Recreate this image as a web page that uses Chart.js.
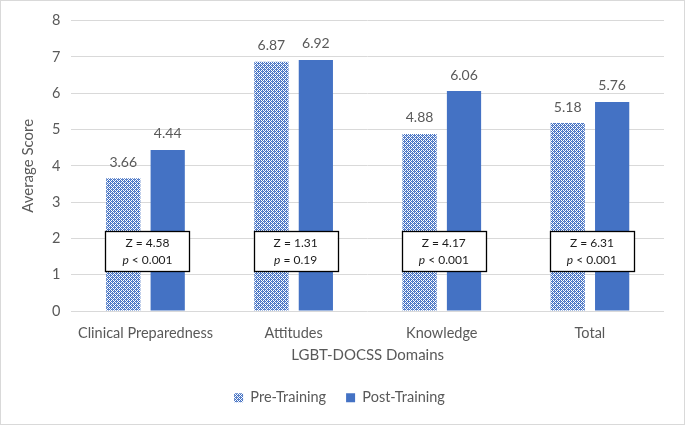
<!DOCTYPE html>
<html>
<head>
<meta charset="utf-8">
<script src="https://cdn.jsdelivr.net/npm/chart.js@4.4.1/dist/chart.umd.min.js"></script>
<style>
  html, body { margin: 0; padding: 0; background: #fff; }
  #wrap { width: 683px; height: 423px; border: 1px solid #d9d9d9; }
</style>
</head>
<body>
<div id="wrap"><canvas id="chartCanvas" width="683" height="423"></canvas></div>
<script>
    var categories = ["Clinical Preparedness", "Attitudes", "Knowledge", "Total"];
    var preTraining = [3.66, 6.87, 4.88, 5.18];
    var postTraining = [4.44, 6.92, 6.06, 5.76];
    var zValues = ["4.58", "1.31", "4.17", "6.31"];
    var pValues = ["< 0.001", "= 0.19", "< 0.001", "< 0.001"];
    var yTicks = [0, 1, 2, 3, 4, 5, 6, 7, 8];

    var blue = "#4472C4";
    var grey = "#595959";
    var fontName = "Lato, 'Open Sans', sans-serif";

    // checkered fill for the pre-training bars
    var makePattern = function(ctx) {
        var tile = document.createElement("canvas");
        tile.width = 4;
        tile.height = 4;
        var t = tile.getContext("2d");
        t.fillStyle = "#ffffff";
        t.fillRect(0, 0, 4, 4);
        t.fillStyle = blue;
        for (var y = 0; y < 4; y++) {
            for (var x = 0; x < 4; x++) {
                if ((x + y) % 2 === 0) t.fillRect(x, y, 1, 1);
            }
        }
        t.fillStyle = "#6f8fd0";
        t.fillRect(1, 2, 1, 1);
        t.fillRect(3, 0, 1, 1);
        return ctx.createPattern(tile, "repeat");
    };

    var valueLabels = {
        id: "valueLabels",
        afterDatasetsDraw: function(chart) {
            var ctx = chart.ctx;
            ctx.save();
            ctx.fillStyle = grey;
            ctx.font = "14px " + fontName;
            ctx.textAlign = "center";
            ctx.textBaseline = "bottom";
            chart.data.datasets.forEach(function(ds, di) {
                chart.getDatasetMeta(di).data.forEach(function(bar, i) {
                    ctx.fillText(ds.data[i].toFixed(2), bar.x, bar.y - 9);
                });
            });
            ctx.restore();
        }
    };

    var statBoxes = {
        id: "statBoxes",
        afterDatasetsDraw: function(chart) {
            var ctx = chart.ctx;
            var xs = chart.scales.x, ys = chart.scales.y;
            ctx.save();
            categories.forEach(function(c, i) {
                var cx = xs.getPixelForValue(i) + 2;
                var top = ys.getPixelForValue(2.2);
                var bottom = ys.getPixelForValue(1.1);
                var w = 84;
                ctx.fillStyle = "#ffffff";
                ctx.fillRect(cx - w / 2, top, w, bottom - top);
                ctx.strokeStyle = "#000000";
                ctx.lineWidth = 1.3;
                ctx.strokeRect(Math.round(cx - w / 2) + 0.5, Math.round(top) + 0.5, w, Math.round(bottom - top));
                ctx.fillStyle = "#1a1a1a";
                ctx.textBaseline = "middle";
                ctx.font = "12px " + fontName;
                ctx.textAlign = "center";
                var midTop = top + (bottom - top) * 0.3;
                var midBot = top + (bottom - top) * 0.72;
                ctx.fillText("Z = " + zValues[i], cx, midTop);
                var rest = " " + pValues[i];
                ctx.font = "italic 12px " + fontName;
                var pw = ctx.measureText("p").width;
                ctx.font = "12px " + fontName;
                var rw = ctx.measureText(rest).width;
                var start = cx - (pw + rw) / 2;
                ctx.textAlign = "left";
                ctx.font = "italic 12px " + fontName;
                ctx.fillText("p", start, midBot);
                ctx.font = "12px " + fontName;
                ctx.fillText(rest, start + pw, midBot);
            });
            ctx.restore();
        }
    };

    window.onload = function() {
        var ctx = document.getElementById("chartCanvas").getContext("2d");
        var pattern = makePattern(ctx);
        window.myBar = new Chart(ctx, {
            type: "bar",
            data: {
                labels: categories,
                datasets: [
                    {
                        label: "Pre-Training",
                        data: preTraining,
                        backgroundColor: pattern,
                        borderWidth: 0,
                        categoryPercentage: 0.6,
                        barPercentage: 0.77
                    },
                    {
                        label: "Post-Training",
                        data: postTraining,
                        backgroundColor: blue,
                        borderWidth: 0,
                        categoryPercentage: 0.6,
                        barPercentage: 0.77
                    }
                ]
            },
            options: {
                responsive: false,
                animation: false,
                layout: { padding: { top: 7, right: 20, left: 14, bottom: 9 } },
                plugins: {
                    tooltip: { enabled: false },
                    legend: {
                        position: "bottom",
                        labels: {
                            boxWidth: 9,
                            boxHeight: 9,
                            padding: 20,
                            color: grey,
                            font: { family: fontName, size: 14.5 }
                        }
                    }
                },
                scales: {
                    x: {
                        grid: { display: false },
                        border: { display: false },
                        ticks: { color: grey, font: { family: fontName, size: 14.5, lineHeight: 1.0 }, padding: 7 },
                        title: {
                            display: true,
                            text: "LGBT-DOCSS Domains",
                            color: grey,
                            font: { family: fontName, size: 15, lineHeight: 1.0 },
                            padding: { top: 0, bottom: 8 }
                        }
                    },
                    y: {
                        min: 0,
                        max: 8,
                        afterBuildTicks: function(axis) {
                            axis.ticks = yTicks.map(function(v) { return { value: v }; });
                        },
                        grid: { color: "#d9d9d9", lineWidth: 1, drawTicks: false },
                        border: { display: false },
                        ticks: { color: grey, font: { family: fontName, size: 14.5 }, padding: 11 },
                        title: {
                            display: true,
                            text: "Average Score",
                            color: grey,
                            font: { family: fontName, size: 15 },
                            padding: { bottom: 4 }
                        }
                    }
                }
            },
            plugins: [valueLabels, statBoxes]
        });
    };
</script>
</body>
</html>
